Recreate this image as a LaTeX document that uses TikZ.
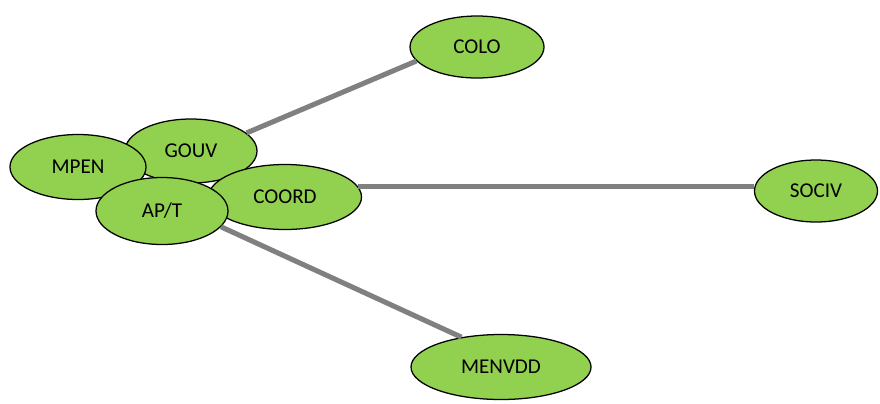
\documentclass[tikz,border=0pt]{standalone}
\usepackage{fontspec}
\setmainfont{Carlito}
\usepackage{xcolor}
\usetikzlibrary{shapes.geometric}
\definecolor{leaf}{HTML}{92D050}
\definecolor{linkgray}{HTML}{808080}
\tikzset{
  actor/.style={draw, ellipse, line width=0.9pt, fill=leaf, inner sep=0pt, font=\fontsize{15}{18}\selectfont},
  ovalsize/.style 2 args={minimum width=#1*0.025cm, minimum height=#2*0.025cm},
  link/.style={draw=linkgray, line width=3.6pt}
}
\begin{document}
\begin{tikzpicture}[x=0.025cm,y=-0.025cm]
  \useasboundingbox (0,0) rectangle (880,403);
  \node[actor, ovalsize={132}{64}] (gouv) at (191,151) {GOUV};
  \node[actor, ovalsize={136}{65}] (mpen) at (78,167) {MPEN};
  \node[actor, ovalsize={153}{65}] (coord) at (285,197) {COORD};
  \node[actor, ovalsize={132}{67}] (apt) at (162,211) {AP/T};
  \node[actor, ovalsize={134}{62}] (colo) at (477,47) {COLO};
  \node[actor, ovalsize={123}{62}] (sociv) at (816,191) {SOCIV};
  \node[actor, ovalsize={180}{65}] (menvdd) at (501,367) {MENVDD};

  \draw[link] (gouv.18) -- (colo.193);
  \draw[link] (coord.8) -- (coord.8 -| sociv.west);
  \draw[link] (apt.345) -- (menvdd.143);
\end{tikzpicture}
\end{document}
